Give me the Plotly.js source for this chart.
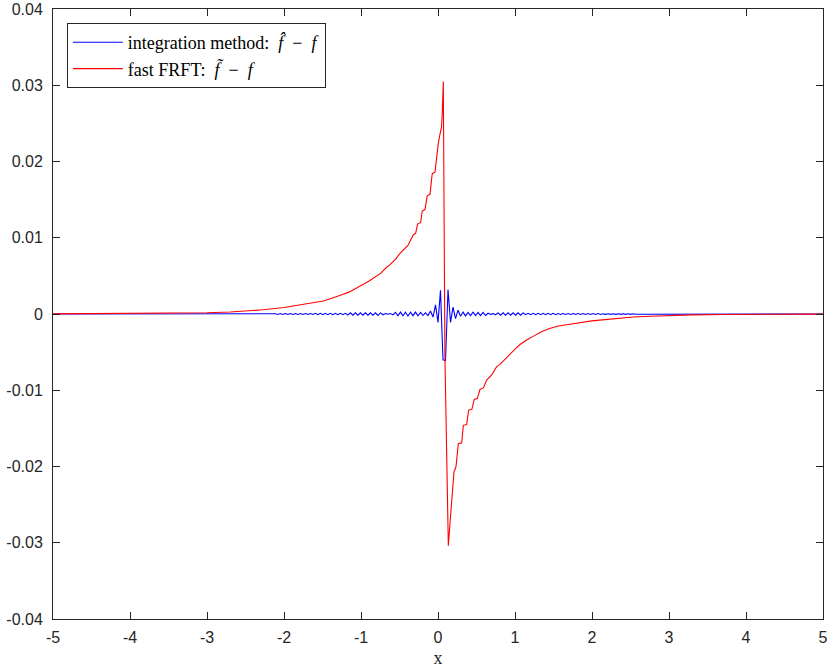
<!DOCTYPE html>
<html>
<head>
<meta charset="utf-8">
<script src="https://cdn.plot.ly/plotly-3.0.1.min.js"></script>
<style>html,body{margin:0;padding:0;background:#fff;}#chart{width:831px;height:669px;}</style>
</head>
<body>
<div id="chart"></div>
<script>
// ---- data ----
const seriesNames = ["integration method:  <i>f̂</i>\u2002−\u2002<i>f</i>", "fast FRFT:  <i>f̃</i>\u2002−\u2002<i>f</i>"];

// red: fast FRFT error
const redX = [-5, -4.5, -4, -3.5, -3, -2.7, -2.5, -2.27, -2.0, -1.84, -1.7, -1.6, -1.49, -1.4, -1.3, -1.23, -1.15, -1.05, -0.97, -0.9, -0.8, -0.75, -0.67, -0.62, -0.55, -0.49, -0.42, -0.39, -0.36, -0.32, -0.29, -0.265, -0.225, -0.205, -0.169, -0.14, -0.104, -0.075, -0.039, -0.005, 0.004, 0.03, 0.045, 0.055, 0.069, 0.09, 0.134, 0.165, 0.191, 0.208, 0.234, 0.264, 0.308, 0.329, 0.372, 0.398, 0.44, 0.47, 0.51, 0.545, 0.59, 0.63, 0.697, 0.762, 0.805, 0.87, 0.935, 1.0, 1.065, 1.15, 1.24, 1.35, 1.45, 1.55, 1.67, 1.84, 2.0, 2.1, 2.3, 2.54, 2.75, 2.97, 3.3, 3.7, 4.0, 4.5, 5.0];
const redY = [0.00002, 0.00003, 0.00005, 0.00009, 0.00016, 0.00026, 0.00036, 0.00055, 0.00085, 0.0011, 0.0013, 0.0015, 0.0017, 0.0020, 0.0023, 0.0026, 0.0029, 0.0034, 0.0039, 0.0043, 0.0050, 0.0053, 0.0061, 0.0065, 0.0072, 0.0080, 0.0087, 0.0090, 0.0096, 0.0104, 0.0106, 0.0118, 0.0120, 0.0135, 0.0137, 0.0155, 0.0157, 0.0184, 0.0186, 0.0222, 0.0224, 0.0238, 0.0245, 0.0262, 0.0305, -0.0056, -0.0304, -0.0262, -0.0222, -0.0207, -0.0200, -0.0170, -0.0169, -0.0146, -0.0145, -0.0126, -0.0125, -0.0112, -0.0111, -0.0099, -0.0097, -0.0087, -0.0080, -0.0069, -0.0066, -0.0059, -0.0053, -0.0046, -0.0040, -0.0034, -0.0029, -0.0023, -0.0019, -0.0016, -0.0014, -0.0011, -0.0009, -0.0008, -0.0006, -0.0004, -0.0003, -0.0002, -0.00012, -0.00006, -0.00004, -0.00002, -0.00001];

// blue: integration method error, sampled on a uniform grid from -2.6 step 0.0325
const blueGridStart = -2.6;
const blueGridStep = 0.0325;
const blueY = [
 -0.4e-4, 0.4e-4, -0.4e-4, 0.4e-4, -0.4e-4, 0.4e-4, -0.4e-4, 0.4e-4, -0.4e-4, 0.4e-4,
 -0.4e-4, 0.4e-4, -0.4e-4, 0.4e-4, -0.4e-4, 0.4e-4, -0.6e-4, 0.6e-4, -0.6e-4, 0.6e-4,
 -0.6e-4, 0.6e-4, -0.6e-4, 0.6e-4, -0.6e-4, 0.6e-4, -0.6e-4, 0.6e-4, -0.6e-4, 0.6e-4,
 -0.6e-4, 0.9e-4, -0.9e-4, 0.9e-4, -0.9e-4, 0.9e-4, -0.9e-4, 0.9e-4, -0.9e-4, 0.9e-4,
 -0.9e-4, 0.9e-4, -0.9e-4, 0.9e-4, -1.5e-4, 1.5e-4, -1.5e-4, 1.5e-4, -1.5e-4, 1.5e-4,
 -1.5e-4, 1.5e-4, -1.5e-4, 1.5e-4, -1.5e-4, 1.5e-4, -1.8e-4, 1.5e-4, -1.0e-4, 0.5e-4,
 -0.3e-4, 0.6e-4, -1.2e-4, 2.3e-4, -2.3e-4, 2.5e-4, -2.4e-4, 2.3e-4, -2.6e-4, 2.4e-4,
 -2.2e-4, 2.5e-4, -2.3e-4, 2.0e-4, -2.0e-4, 1.5e-4, -2.0e-4, 4e-4, -4e-4, 12e-4,
 -11e-4,
 31e-4, -60e-4, -61e-4, 32e-4, -11e-4, 9e-4, -6e-4, 5e-4, -3e-4,
 2.5e-4, -2.5e-4, 2.2e-4, -2.2e-4, 2.3e-4, -2.2e-4, 2.2e-4, -2.1e-4, 2.2e-4, -2.0e-4,
 1.0e-4, -0.5e-4, 0.5e-4, -1.0e-4, 1.5e-4, -1.5e-4, 1.5e-4, -1.5e-4, 1.5e-4, -1.5e-4,
 1.5e-4, -1.5e-4, 1.5e-4, -1.5e-4, 1.5e-4, -0.9e-4, 0.9e-4, -0.9e-4, 0.9e-4, -0.9e-4,
 0.9e-4, -0.9e-4, 0.9e-4, -0.9e-4, 0.9e-4, -0.9e-4, 0.9e-4, -0.9e-4, 0.6e-4, -0.6e-4,
 0.6e-4, -0.6e-4, 0.6e-4, -0.6e-4, 0.6e-4, -0.6e-4, 0.6e-4, -0.6e-4, 0.6e-4, -0.6e-4,
 0.6e-4, -0.6e-4, 0.6e-4, -0.6e-4, 0.6e-4, -0.6e-4, 0.4e-4, -0.4e-4, 0.4e-4, -0.4e-4,
 0.4e-4, -0.4e-4, 0.4e-4, -0.4e-4, 0.4e-4, -0.4e-4, 0.4e-4, -0.4e-4, 0.4e-4, -0.4e-4
];
const blueTailX = [-5, 5];
const blueTailY = [0, 0];

const xTickVals = [-5, -4, -3, -2, -1, 0, 1, 2, 3, 4, 5];
const xTickText = ["-5", "-4", "-3", "-2", "-1", "0", "1", "2", "3", "4", "5"];
const yTickVals = [-0.04, -0.03, -0.02, -0.01, 0, 0.01, 0.02, 0.03, 0.04];
const yTickText = ["-0.04", "-0.03", "-0.02", "-0.01", "0", "0.01", "0.02", "0.03", "0.04"];
const xTitle = "x";

// ---- build ----
const blueX = [blueTailX[0]];
const blueYAll = [blueTailY[0]];
for (let k = 0; k < blueY.length; k++) {
  blueX.push(blueGridStart + k * blueGridStep);
  blueYAll.push(blueY[k]);
}
blueX.push(blueTailX[1]);
blueYAll.push(blueTailY[1]);

const traces = [
  {x: blueX, y: blueYAll, type: 'scatter', mode: 'lines', name: seriesNames[0],
   line: {color: '#0000ff', width: 1.1}},
  {x: redX, y: redY, type: 'scatter', mode: 'lines', name: seriesNames[1],
   line: {color: '#ff0000', width: 1.1}}
];

const axisCommon = {
  showgrid: false, zeroline: false, showline: true, linecolor: '#262626', linewidth: 1,
  mirror: 'ticks', ticks: 'inside', ticklen: 7, tickcolor: '#262626', tickwidth: 1,
  tickfont: {family: 'Liberation Sans, Arial, sans-serif', size: 16, color: '#262626'}
};

const layout = {
  width: 831, height: 669,
  margin: {l: 53, r: 8, t: 9, b: 50},
  paper_bgcolor: '#ffffff', plot_bgcolor: '#ffffff',
  showlegend: true,
  legend: {x: 0.018, y: 0.977, xanchor: 'left', yanchor: 'top',
    bgcolor: '#ffffff', bordercolor: '#262626', borderwidth: 1,
    font: {family: 'Liberation Serif, Times New Roman, serif', size: 18, color: '#000'},
    tracegroupgap: 0, itemwidth: 50},
  xaxis: Object.assign({}, axisCommon, {range: [-5, 5], tickvals: xTickVals, ticktext: xTickText,
    ticklabelstandoff: 4,
    title: {text: xTitle, font: {family: 'Liberation Serif, Times New Roman, serif', size: 18, color: '#262626'}, standoff: 6}}),
  yaxis: Object.assign({}, axisCommon, {range: [-0.04, 0.04], tickvals: yTickVals, ticktext: yTickText,
    ticklabelstandoff: 6})
};

Plotly.newPlot('chart', traces, layout, {displayModeBar: false, staticPlot: true});
</script>
</body>
</html>
